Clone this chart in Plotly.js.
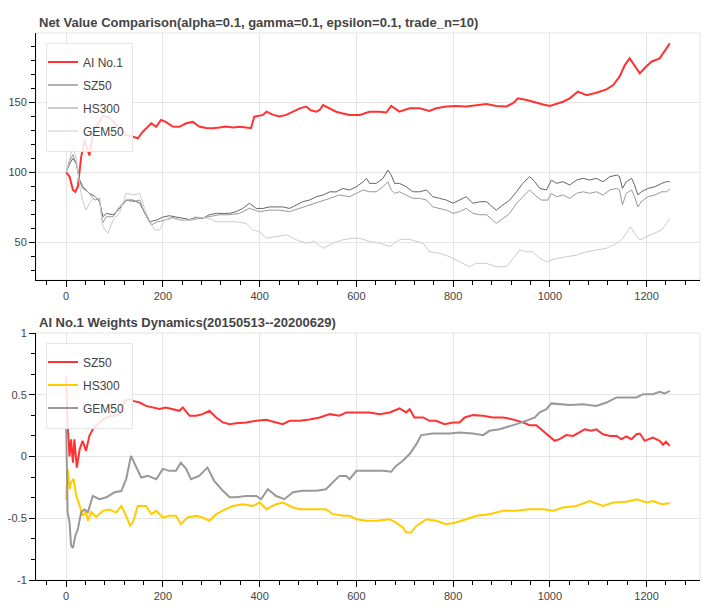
<!DOCTYPE html>
<html>
<head>
<meta charset="utf-8">
<script src="https://cdn.plot.ly/plotly-3.0.1.min.js"></script>
<style>html,body{margin:0;padding:0;background:#fff;}#chart{width:707px;height:608px;}</style>
</head>
<body>
<div id="chart"></div>
<script>
// ---------- Top panel: net values ----------
const aiT = [0,7,14,19,24,27,31,38,48,55,69,76,90,107,124,138,148,158,165,176,186,196,206,220,234,248,262,275,289,303,317,330,345,358,372,382,389,407,414,428,441,455,469,483,496,506,517,524,531,545,558,572,586,607,627,648,662,672,689,710,731,751,765,786,806,827,848,869,889,910,924,934,952,972,986,1000,1014,1027,1041,1058,1076,1096,1117,1131,1144,1155,1165,1172,1179,1186,1196,1210,1227,1237,1248];
const aiV = [100,96.9,87.4,86,89.7,99.3,111,123,112,128,137,140.6,138.9,132.6,126.6,125.4,124.3,128.8,131.4,135,132.5,137.4,136,132.7,132.5,135,136,132.7,131.7,131.5,132,132.7,132,132.5,132,131.5,139.7,141,143.3,141,139.8,141,143.3,145.7,147,144.3,143.3,144.5,148,145.7,143.3,142,140.9,140.9,143.3,143.3,142.7,147.4,143.3,145.7,145.7,143.8,145.7,147,147.4,147,148,148.8,147.4,147,149.4,152.8,151.6,149.6,148.5,147.4,149.2,150.4,152.8,157.6,155.1,156.8,159.2,162.3,168.3,176.6,181.4,178,174.5,170.7,174.5,179,181.4,186.1,192.1];

const sz50T = [0,7,14,21,28,34,41,48,59,69,76,83,97,110,124,138,152,162,172,186,200,213,227,241,255,269,282,296,310,324,338,351,365,379,393,407,420,434,448,462,476,489,503,517,531,545,558,572,586,600,614,621,627,641,655,665,672,679,689,703,717,731,745,758,772,786,800,813,827,841,855,869,882,889,903,917,931,944,958,969,979,993,1003,1014,1027,1041,1055,1069,1082,1096,1110,1124,1138,1144,1150,1158,1169,1175,1182,1189,1203,1217,1231,1241,1248];
const sz50V = [100,106,110,106,94.5,90,87.4,85,83,79,68.3,70.6,69.7,73.8,80.2,80.2,78,71,64.7,65.8,68,69,68,67,66.3,68,67,69.7,70.7,70.7,70.7,71.9,74.2,77.9,74.2,74.2,75.3,75.3,75.3,74.2,76.7,79,80.2,82.6,83.8,86.1,86,88.5,87.4,89.7,93.3,95.7,92.1,92.1,95.7,101.6,98,92.1,92.1,89.7,86.1,86.1,87.4,82.6,81.4,80.2,77.9,80.2,82.6,77.9,79,79,75.3,73,76.7,80.2,86.1,92.1,96.9,93.3,88.5,87.4,94.5,92.1,93.3,90.9,94.5,95.7,94.5,95.7,93.3,96.9,98,96.9,88.5,93.3,95.7,91,83.8,86.1,88.5,89.7,92.1,93.3,93.3];

const hs300T = [0,7,14,21,28,34,45,59,69,75,83,97,110,124,138,152,162,176,189,203,220,237,255,275,296,317,338,358,379,400,420,441,462,483,503,524,545,565,586,600,614,627,641,655,665,672,679,689,703,717,731,745,758,772,786,800,813,827,841,855,869,882,889,903,917,931,944,958,969,982,996,1003,1014,1027,1041,1055,1069,1082,1096,1110,1124,1138,1144,1150,1158,1169,1175,1182,1189,1203,1217,1231,1241,1248];
const hs300V = [100,107.9,112.6,106,93.3,88.5,86,80.2,81.4,63.6,68.3,68.3,75.3,80.2,79,80.2,71,62.4,64.7,65.8,68,65.8,65.8,67,68,69.7,69.7,70.7,74.2,71.9,73,73,71.9,74.2,76.7,79,81.4,83.8,82.6,85,87.4,86.1,86.1,89.7,93.3,87.4,85,86.1,83.8,81.4,81.4,80.2,75.3,74.2,73,70.7,71.9,74.2,70.7,69.7,69.7,65.8,63.5,67,70.7,77.9,82.6,87.4,83.8,80.2,80.2,85,82.6,83.8,81.4,85,86.1,85,86.1,83.8,87.4,88.5,87.4,76.7,85,87.4,82.6,75.3,79,82.6,83.8,86.1,86.1,88];

const gem50T = [0,7,14,21,28,34,41,48,59,69,76,86,97,110,124,138,152,162,172,183,193,203,220,237,255,275,296,310,330,351,372,386,400,414,434,455,476,496,513,531,551,572,593,607,627,648,669,689,707,724,738,751,772,793,813,834,848,869,889,910,924,938,951,965,979,993,1014,1034,1055,1076,1096,1117,1138,1151,1162,1167,1175,1186,1200,1217,1231,1241,1248];
const gem50V = [100,110,118.3,110,90,80,73,77.9,82.6,80.2,61.1,56.4,65.8,70.7,85,83.8,85,74.2,65.8,58.8,58.8,65.8,67,65.8,65.8,68,67,64.7,64.7,64.7,63.5,58.8,57.6,52.9,54.1,55.3,51.8,49.4,50.6,45.7,49.4,51.8,52.9,52.9,50.6,49.4,47,51.8,52.3,50.6,49.4,43.3,42.2,39.7,36.2,32.6,35,35,32.6,32.6,38.5,44.5,43.3,43.3,38.5,36.2,38.5,39.7,40.9,43.3,44.5,45.7,49.4,52.9,58.8,61.1,56.4,51.8,54.1,56.4,58.8,63.5,67];

// ---------- Bottom panel: weights ----------
const wSzT = [0,1,3,7,10,14,17,22,28,34,41,48,55,69,83,97,110,121,131,138,152,165,179,193,206,220,234,241,255,269,282,296,310,324,338,351,372,393,414,434,448,462,483,503,524,545,565,579,600,627,648,669,689,703,710,720,738,751,765,782,800,813,824,841,862,882,903,924,944,958,972,986,1000,1010,1020,1034,1048,1062,1072,1086,1096,1110,1124,1138,1148,1158,1169,1179,1186,1196,1213,1227,1234,1240,1248];
const wSzV = [0.65,0.45,0.25,0.0,0.14,-0.05,0.14,-0.09,0.06,0.127,0.046,0.167,0.22,0.276,0.316,0.33,0.343,0.45,0.465,0.45,0.437,0.41,0.397,0.384,0.397,0.384,0.37,0.397,0.33,0.33,0.343,0.37,0.316,0.276,0.262,0.27,0.276,0.289,0.297,0.276,0.262,0.289,0.289,0.3,0.316,0.343,0.33,0.357,0.357,0.357,0.343,0.357,0.389,0.357,0.384,0.316,0.316,0.289,0.289,0.262,0.276,0.276,0.316,0.335,0.33,0.316,0.316,0.30,0.276,0.254,0.254,0.208,0.167,0.127,0.14,0.173,0.167,0.194,0.22,0.208,0.22,0.18,0.167,0.167,0.14,0.162,0.14,0.18,0.186,0.127,0.154,0.127,0.095,0.119,0.086];

const wHsT = [0,3,7,10,15,21,28,34,41,45,52,62,76,90,103,114,124,132,138,148,165,176,186,200,213,227,237,251,269,282,296,310,330,344,365,386,400,414,434,448,469,483,510,537,551,572,586,600,620,641,669,682,696,703,713,724,745,765,786,806,827,848,875,903,931,958,986,1007,1027,1055,1082,1110,1131,1158,1179,1200,1213,1231,1248];
const wHsV = [-0.35,-0.10,-0.265,-0.21,-0.18,-0.32,-0.40,-0.48,-0.45,-0.52,-0.45,-0.49,-0.44,-0.43,-0.454,-0.40,-0.48,-0.56,-0.535,-0.40,-0.40,-0.467,-0.44,-0.494,-0.48,-0.48,-0.548,-0.494,-0.48,-0.494,-0.52,-0.467,-0.427,-0.40,-0.386,-0.40,-0.373,-0.427,-0.386,-0.373,-0.413,-0.427,-0.427,-0.427,-0.467,-0.48,-0.48,-0.508,-0.52,-0.52,-0.508,-0.535,-0.575,-0.616,-0.616,-0.562,-0.508,-0.52,-0.548,-0.535,-0.508,-0.48,-0.467,-0.44,-0.44,-0.427,-0.427,-0.44,-0.413,-0.40,-0.36,-0.40,-0.373,-0.367,-0.346,-0.373,-0.36,-0.386,-0.378];

const wGemT = [0,2,3,7,10,14,19,24,31,38,45,55,69,83,100,114,124,134,145,155,169,186,200,213,227,237,248,258,275,292,306,324,338,351,372,393,403,417,434,451,469,489,517,537,551,565,579,586,600,627,655,672,682,696,710,724,734,758,793,813,841,862,875,896,910,931,951,969,979,993,1003,1020,1041,1069,1096,1117,1138,1158,1179,1193,1213,1227,1237,1248];
const wGemV = [0.25,-0.24,-0.45,-0.535,-0.72,-0.74,-0.64,-0.59,-0.45,-0.43,-0.45,-0.32,-0.346,-0.33,-0.29,-0.28,-0.184,0.005,-0.09,-0.17,-0.157,-0.184,-0.10,-0.116,-0.116,-0.05,-0.10,-0.184,-0.157,-0.09,-0.197,-0.278,-0.33,-0.33,-0.32,-0.32,-0.346,-0.265,-0.32,-0.346,-0.29,-0.278,-0.278,-0.265,-0.21,-0.157,-0.157,-0.184,-0.116,-0.116,-0.116,-0.124,-0.076,-0.035,0.02,0.10,0.173,0.186,0.186,0.195,0.186,0.173,0.208,0.22,0.235,0.262,0.289,0.316,0.357,0.384,0.43,0.424,0.416,0.424,0.41,0.437,0.478,0.478,0.478,0.505,0.505,0.524,0.51,0.532];

const topNames = ['AI No.1', 'SZ50', 'HS300', 'GEM50'];
const bottomNames = ['SZ50', 'HS300', 'GEM50'];
const titles = ['Net Value Comparison(alpha=0.1, gamma=0.1, epsilon=0.1, trade_n=10)',
                'AI No.1 Weights Dynamics(20150513--20200629)'];
const wTickVals = [-1, -0.5, 0, 0.5, 1];
const wTickText = ['-1', '-0.5', '0', '0.5', '1'];

const FONT = 'Liberation Sans, Arial, Helvetica, sans-serif';

function tr(x, y, name, color, width, xa, ya, leg, grp) {
  return {type: 'scatter', mode: 'lines', x: x, y: y, name: name,
          xaxis: xa, yaxis: ya, legend: leg, legendgroup: grp,
          line: {color: color, width: width}, hoverinfo: 'skip'};
}

const data = [
  tr(aiT, aiV, topNames[0], '#ff3333', 2, 'x', 'y', 'legend', 'a'),
  tr(sz50T, sz50V, topNames[1], '#666666', 1, 'x', 'y', 'legend', 'b'),
  tr(hs300T, hs300V, topNames[2], '#999999', 1, 'x', 'y', 'legend', 'c'),
  tr(gem50T, gem50V, topNames[3], '#cccccc', 1, 'x', 'y', 'legend', 'd'),
  tr(wSzT, wSzV, bottomNames[0], '#ff3333', 2, 'x2', 'y2', 'legend2', 'e'),
  tr(wHsT, wHsV, bottomNames[1], '#ffcc00', 2, 'x2', 'y2', 'legend2', 'f'),
  tr(wGemT, wGemV, bottomNames[2], '#999999', 2, 'x2', 'y2', 'legend2', 'g')
];

const W = 707, H = 608;
const xDom = [36 / W, 700 / W];
const topDom = [1 - 280 / H, 1 - 33 / H];
const botDom = [1 - 580 / H, 1 - 333 / H];
const tickFont = {family: FONT, size: 11, color: '#444'};

function xAxis(anchor) {
  return {domain: xDom, anchor: anchor, range: [-62.4, 1310.4], tick0: 0, dtick: 200,
          showgrid: true, gridcolor: '#e5e5e5', gridwidth: 1, zeroline: false,
          showline: true, linecolor: '#000', linewidth: 1,
          ticks: 'outside', ticklen: 6, tickcolor: '#000', tickwidth: 1,
          minor: {ticks: 'outside', ticklen: 4, tickcolor: '#000', tickwidth: 1, tick0: 0, dtick: 40, showgrid: false},
          tickfont: tickFont};
}

function legendBox(y0px, y1px) {
  return {type: 'rect', xref: 'paper', yref: 'paper',
          x0: 46.5 / W, x1: 132.5 / W, y0: 1 - y1px / H, y1: 1 - y0px / H,
          fillcolor: 'rgba(255,255,255,0.85)', line: {color: '#e5e5e5', width: 1}, layer: 'above'};
}

function legendCfg(topPx) {
  return {x: 43 / W, y: 1 - topPx / H, xanchor: 'left', yanchor: 'top',
          bgcolor: 'rgba(0,0,0,0)', borderwidth: 0,
          font: {family: FONT, size: 12, color: '#444'}, tracegroupgap: 4, traceorder: 'grouped'};
}

const layout = {
  width: W, height: H,
  margin: {l: 0, r: 0, t: 0, b: 0},
  paper_bgcolor: '#fff', plot_bgcolor: '#fff',
  font: {family: FONT, color: '#444'},
  showlegend: true,
  xaxis: xAxis('y'),
  xaxis2: xAxis('y2'),
  yaxis: {domain: topDom, anchor: 'x', range: [23.1, 199.5], tick0: 0, dtick: 50,
          showgrid: true, gridcolor: '#e5e5e5', zeroline: false,
          showline: true, linecolor: '#000', linewidth: 1,
          ticks: 'outside', ticklen: 6, tickcolor: '#000',
          minor: {ticks: 'outside', ticklen: 4, tickcolor: '#000', tick0: 0, dtick: 10, showgrid: false},
          tickfont: tickFont},
  yaxis2: {domain: botDom, anchor: 'x2', range: [-1, 1], tickmode: 'array',
           tickvals: wTickVals, ticktext: wTickText,
           showgrid: true, gridcolor: '#e5e5e5', zeroline: false,
           showline: true, linecolor: '#000', linewidth: 1,
           ticks: 'outside', ticklen: 6, tickcolor: '#000',
           minor: {ticks: 'outside', ticklen: 4, tickcolor: '#000', tick0: 0, dtick: 1 / 6, showgrid: false},
           tickfont: tickFont},
  legend: legendCfg(47.5),
  legend2: legendCfg(347.5),
  shapes: [
    {type: 'rect', xref: 'x domain', yref: 'y domain', x0: 0, x1: 1, y0: 0, y1: 1,
     line: {color: '#e5e5e5', width: 1}, layer: 'below'},
    {type: 'rect', xref: 'x2 domain', yref: 'y2 domain', x0: 0, x1: 1, y0: 0, y1: 1,
     line: {color: '#e5e5e5', width: 1}, layer: 'below'},
    legendBox(43.5, 151.5),
    legendBox(343.5, 428.5)
  ],
  annotations: [
    {text: titles[0], xref: 'paper', yref: 'paper', x: 37 / W, y: 1 - 22 / H,
     xanchor: 'left', yanchor: 'middle', showarrow: false,
     font: {family: FONT, size: 13, color: '#444', weight: 'bold'}},
    {text: titles[1], xref: 'paper', yref: 'paper', x: 37 / W, y: 1 - 322 / H,
     xanchor: 'left', yanchor: 'middle', showarrow: false,
     font: {family: FONT, size: 13, color: '#444', weight: 'bold'}}
  ]
};

Plotly.newPlot('chart', data, layout, {displayModeBar: false, staticPlot: true});
</script>
</body>
</html>
